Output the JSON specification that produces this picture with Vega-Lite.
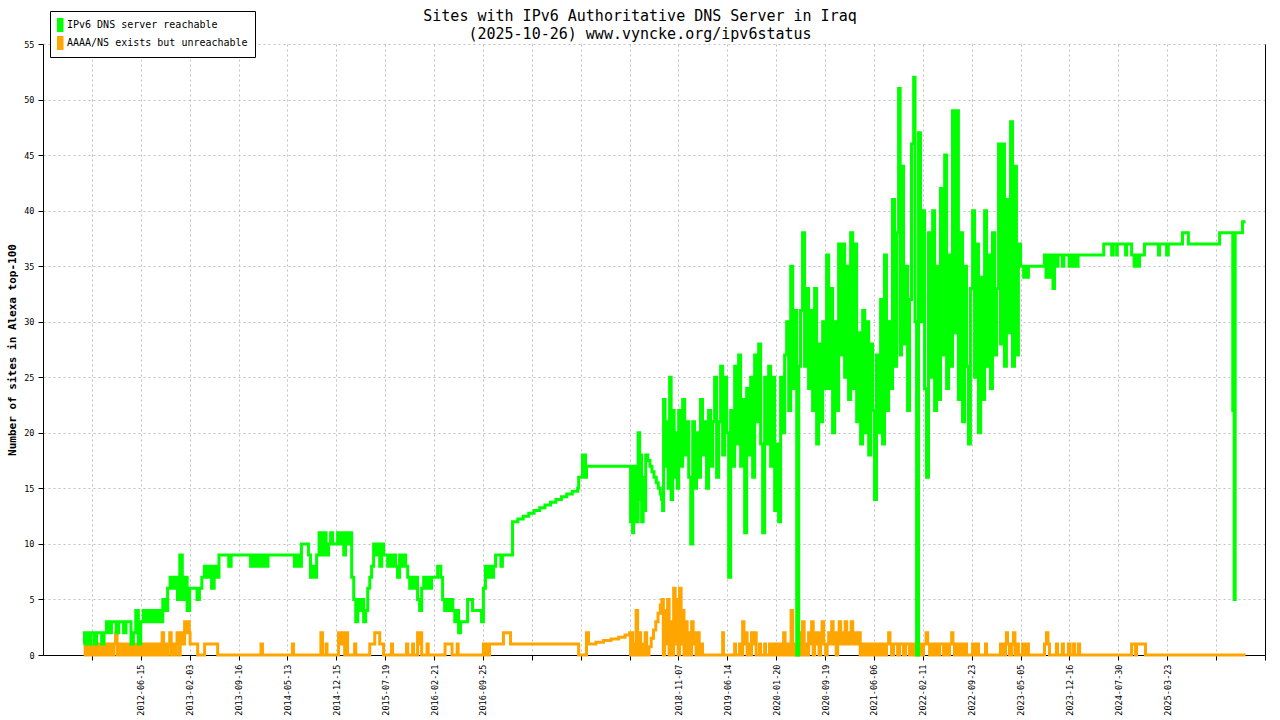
{
  "$schema": "https://vega.github.io/schema/vega-lite/v6.json",
  "autosize": {"type": "none"},
  "width": 1222,
  "height": 611,
  "padding": {"left": 43, "top": 44, "right": 15, "bottom": 65},
  "background": "white",
  "view": {"stroke": null},
  "config": {"font": "DejaVu Sans Mono"},
  "title": {
    "text": ["Sites with IPv6 Authoritative DNS Server in Iraq", "(2025-10-26) www.vyncke.org/ipv6status"],
    "font": "DejaVu Sans Mono",
    "fontSize": 15,
    "fontWeight": "normal",
    "color": "black",
    "anchor": "middle",
    "frame": "group",
    "dx": -14,
    "offset": -31,
    "lineHeight": 18
  },
  "datasets": {
    "green": [
      {"day":268,"n":1},{"day":272,"n":2},{"day":281,"n":2},{"day":286,"n":1},{"day":290,"n":2},{"day":297,"n":1},{"day":301,"n":2},
      {"day":306,"n":2},{"day":317,"n":1},{"day":328,"n":2},{"day":340,"n":2},{"day":351,"n":1},{"day":362,"n":2},{"day":373,"n":3},{"day":385,"n":2},{"day":396,"n":3},{"day":407,"n":3},{"day":418,"n":2},{"day":430,"n":3},{"day":441,"n":3},{"day":452,"n":2},{"day":463,"n":3},{"day":475,"n":3},{"day":486,"n":1},{"day":497,"n":2},{"day":508,"n":4},{"day":520,"n":1},
      {"day":531,"n":3},{"day":543,"n":4},{"day":554,"n":3},{"day":566,"n":4},{"day":578,"n":3},{"day":589,"n":4},{"day":601,"n":3},{"day":612,"n":4},{"day":624,"n":3},{"day":636,"n":5},{"day":647,"n":4},{"day":659,"n":6},{"day":671,"n":7},{"day":682,"n":6},{"day":694,"n":7},{"day":706,"n":5},{"day":717,"n":9},{"day":729,"n":5},{"day":741,"n":7},{"day":752,"n":4},
      {"day":764,"n":6},{"day":775,"n":6},{"day":787,"n":6},{"day":798,"n":5},{"day":809,"n":6},{"day":820,"n":7},{"day":832,"n":8},{"day":843,"n":7},{"day":854,"n":8},{"day":865,"n":6},{"day":877,"n":8},{"day":888,"n":7},{"day":899,"n":9},{"day":910,"n":9},{"day":933,"n":9},{"day":944,"n":8},{"day":955,"n":9},{"day":978,"n":9},
      {"day":989,"n":9},{"day":1037,"n":9},{"day":1048,"n":8},{"day":1060,"n":9},{"day":1072,"n":8},{"day":1082,"n":9},{"day":1096,"n":8},{"day":1108,"n":9},{"day":1121,"n":8},{"day":1133,"n":9},{"day":1228,"n":9},
      {"day":1251,"n":9},{"day":1259,"n":8},{"day":1270,"n":9},{"day":1279,"n":8},{"day":1290,"n":10},{"day":1312,"n":10},{"day":1321,"n":9},{"day":1330,"n":7},{"day":1339,"n":8},{"day":1348,"n":7},{"day":1357,"n":9},{"day":1368,"n":11},{"day":1379,"n":9},{"day":1388,"n":11},{"day":1399,"n":9},{"day":1410,"n":10},{"day":1419,"n":11},{"day":1428,"n":10},{"day":1439,"n":10},
      {"day":1450,"n":11},{"day":1459,"n":10},{"day":1468,"n":11},{"day":1477,"n":9},{"day":1485,"n":11},{"day":1494,"n":10},{"day":1503,"n":11},{"day":1512,"n":7},{"day":1521,"n":5},{"day":1530,"n":3},{"day":1539,"n":5},{"day":1547,"n":4},{"day":1556,"n":5},{"day":1565,"n":3},{"day":1574,"n":4},{"day":1583,"n":6},{"day":1592,"n":7},{"day":1600,"n":8},{"day":1609,"n":10},{"day":1618,"n":9},{"day":1627,"n":10},{"day":1636,"n":8},{"day":1645,"n":10},{"day":1653,"n":9},
      {"day":1662,"n":9},{"day":1671,"n":8},{"day":1680,"n":9},{"day":1689,"n":8},{"day":1698,"n":9},{"day":1706,"n":8},{"day":1715,"n":7},{"day":1724,"n":9},{"day":1733,"n":8},{"day":1742,"n":9},{"day":1751,"n":8},{"day":1760,"n":7},{"day":1769,"n":6},{"day":1777,"n":7},{"day":1786,"n":6},{"day":1795,"n":7},{"day":1804,"n":5},{"day":1813,"n":4},{"day":1822,"n":6},{"day":1831,"n":7},{"day":1840,"n":6},{"day":1849,"n":7},{"day":1857,"n":6},{"day":1866,"n":7},
      {"day":1884,"n":7},{"day":1893,"n":8},{"day":1907,"n":7},{"day":1915,"n":5},{"day":1924,"n":4},{"day":1933,"n":5},{"day":1942,"n":4},{"day":1951,"n":5},{"day":1960,"n":4},{"day":1969,"n":3},{"day":1977,"n":4},{"day":1986,"n":2},{"day":1995,"n":3},{"day":2017,"n":3},{"day":2026,"n":5},{"day":2044,"n":5},{"day":2048,"n":4},{"day":2079,"n":4},{"day":2088,"n":3},
      {"day":2096,"n":6},{"day":2104,"n":8},{"day":2112,"n":7},{"day":2120,"n":8},{"day":2128,"n":7},{"day":2136,"n":8},{"day":2144,"n":9},{"day":2159,"n":9},{"day":2165,"n":8},{"day":2171,"n":9},{"day":2203,"n":9},
      {"day":2211,"n":12},{"day":2232,"n":12.25},{"day":2253,"n":12.5},{"day":2275,"n":12.75},{"day":2296,"n":13},{"day":2318,"n":13.25},{"day":2339,"n":13.5},{"day":2361,"n":13.75},{"day":2382,"n":14},{"day":2404,"n":14.25},{"day":2425,"n":14.5},{"day":2447,"n":14.75},
      {"day":2468,"n":15},{"day":2472,"n":16},{"day":2483,"n":16},{"day":2487,"n":18},{"day":2495,"n":18},{"day":2499,"n":16},{"day":2503,"n":17},{"day":2673,"n":17},
      {"day":2677,"n":12},{"day":2681,"n":17},{"day":2685,"n":11},{"day":2689,"n":16},{"day":2693,"n":13},{"day":2697,"n":17},{"day":2701,"n":12},{"day":2707,"n":20},{"day":2713,"n":14},{"day":2717,"n":18},{"day":2721,"n":12},{"day":2727,"n":16},{"day":2733,"n":13},
      {"day":2737,"n":18},{"day":2745,"n":17.5},{"day":2754,"n":17},{"day":2762,"n":16.5},{"day":2770,"n":16},{"day":2779,"n":15.5},{"day":2787,"n":15},{"day":2795,"n":14.5},{"day":2800,"n":14},
      {"day":2804,"n":13},{"day":2808,"n":23},{"day":2814,"n":17},{"day":2820,"n":21},{"day":2826,"n":15},{"day":2832,"n":25},{"day":2838,"n":14},{"day":2844,"n":22},{"day":2850,"n":16},{"day":2856,"n":20},{"day":2862,"n":15},
      {"day":2868,"n":22},{"day":2877,"n":17},{"day":2886,"n":23},{"day":2895,"n":18},{"day":2904,"n":21},{"day":2913,"n":16},{"day":2922,"n":10},{"day":2931,"n":21},{"day":2939,"n":15},{"day":2948,"n":20},{"day":2957,"n":16},{"day":2966,"n":23},{"day":2975,"n":18},{"day":2984,"n":21},{"day":2993,"n":15},{"day":3002,"n":22},{"day":3011,"n":17},{"day":3020,"n":21},{"day":3029,"n":25},{"day":3038,"n":16},{"day":3047,"n":21},{"day":3056,"n":26},{"day":3065,"n":18},{"day":3074,"n":25},{"day":3083,"n":20},
      {"day":3092,"n":7},{"day":3101,"n":22},{"day":3110,"n":17},{"day":3119,"n":26},{"day":3128,"n":19},{"day":3137,"n":27},{"day":3146,"n":17},{"day":3155,"n":23},{"day":3164,"n":11},{"day":3173,"n":24},{"day":3182,"n":18},{"day":3191,"n":25},{"day":3200,"n":16},{"day":3209,"n":27},{"day":3218,"n":21},{"day":3227,"n":28},{"day":3236,"n":19},{"day":3245,"n":11},{"day":3254,"n":25},{"day":3263,"n":19},{"day":3272,"n":26},{"day":3281,"n":17},{"day":3290,"n":25},{"day":3299,"n":13},
      {"day":3308,"n":19},{"day":3318,"n":12},{"day":3328,"n":25},{"day":3338,"n":20},{"day":3348,"n":27},{"day":3358,"n":30},{"day":3368,"n":22},{"day":3378,"n":35},{"day":3388,"n":24},{"day":3398,"n":31},{"day":3408,"n":0},{"day":3418,"n":26},{"day":3427,"n":31},{"day":3437,"n":38},{"day":3447,"n":26},{"day":3457,"n":33},{"day":3467,"n":24},{"day":3477,"n":31},{"day":3487,"n":22},{"day":3497,"n":33},{"day":3507,"n":19},{"day":3517,"n":28},{"day":3527,"n":21},{"day":3537,"n":30},{"day":3547,"n":24},
      {"day":3557,"n":36},{"day":3568,"n":24},{"day":3578,"n":33},{"day":3589,"n":20},{"day":3600,"n":30},{"day":3610,"n":22},{"day":3621,"n":37},{"day":3632,"n":27},{"day":3642,"n":37},{"day":3653,"n":25},{"day":3664,"n":35},{"day":3674,"n":23},{"day":3685,"n":38},{"day":3696,"n":24},{"day":3706,"n":37},{"day":3717,"n":21},{"day":3728,"n":29},{"day":3738,"n":19},{"day":3749,"n":31},{"day":3760,"n":20},{"day":3770,"n":30},{"day":3781,"n":18},{"day":3792,"n":28},{"day":3802,"n":22},
      {"day":3812,"n":14},{"day":3822,"n":27},{"day":3832,"n":20},{"day":3843,"n":32},{"day":3853,"n":19},{"day":3863,"n":36},{"day":3873,"n":22},{"day":3884,"n":30},{"day":3894,"n":24},{"day":3904,"n":41},{"day":3914,"n":26},{"day":3925,"n":38},{"day":3935,"n":51},{"day":3943,"n":27},{"day":3950,"n":44},{"day":3960,"n":28},{"day":3971,"n":35},{"day":3981,"n":22},{"day":3991,"n":32},{"day":4001,"n":46},{"day":4012,"n":52},{"day":4019,"n":30},{"day":4027,"n":0},{"day":4037,"n":47},{"day":4047,"n":30},
      {"day":4058,"n":40},{"day":4067,"n":24},{"day":4076,"n":16},{"day":4085,"n":38},{"day":4094,"n":25},{"day":4104,"n":40},{"day":4113,"n":22},{"day":4122,"n":35},{"day":4131,"n":23},{"day":4140,"n":42},{"day":4149,"n":27},{"day":4159,"n":45},{"day":4168,"n":24},{"day":4177,"n":36},{"day":4186,"n":26},{"day":4195,"n":49},{"day":4204,"n":29},{"day":4213,"n":49},{"day":4222,"n":23},{"day":4232,"n":38},{"day":4241,"n":21},{"day":4250,"n":35},{"day":4259,"n":26},{"day":4268,"n":19},{"day":4277,"n":33},
      {"day":4287,"n":40},{"day":4296,"n":25},{"day":4305,"n":37},{"day":4314,"n":20},{"day":4324,"n":34},{"day":4333,"n":23},{"day":4342,"n":40},{"day":4351,"n":26},{"day":4360,"n":36},{"day":4369,"n":24},{"day":4378,"n":38},{"day":4388,"n":27},{"day":4397,"n":33},{"day":4406,"n":46},{"day":4415,"n":28},{"day":4424,"n":46},{"day":4433,"n":26},{"day":4442,"n":41},{"day":4452,"n":29},{"day":4461,"n":48},{"day":4470,"n":26},{"day":4479,"n":44},{"day":4488,"n":27},{"day":4497,"n":37},
      {"day":4507,"n":35},{"day":4521,"n":34},{"day":4530,"n":35},{"day":4537,"n":34},{"day":4543,"n":35},{"day":4612,"n":35},{"day":4617,"n":36},{"day":4624,"n":34},{"day":4631,"n":36},{"day":4640,"n":34},{"day":4649,"n":36},{"day":4656,"n":33},{"day":4663,"n":36},{"day":4672,"n":35},{"day":4679,"n":36},{"day":4695,"n":36},{"day":4699,"n":35},{"day":4706,"n":36},{"day":4725,"n":36},{"day":4730,"n":35},
      {"day":4737,"n":36},{"day":4751,"n":35},{"day":4758,"n":36},{"day":4765,"n":35},{"day":4772,"n":36},{"day":4886,"n":36},{"day":4891,"n":37},{"day":4923,"n":37},{"day":4928,"n":36},{"day":4935,"n":37},{"day":4949,"n":37},{"day":4951,"n":36},{"day":4954,"n":37},
      {"day":4989,"n":37},{"day":4994,"n":36},{"day":4999,"n":37},{"day":5018,"n":37},{"day":5023,"n":36},{"day":5035,"n":35},{"day":5042,"n":36},{"day":5054,"n":35},{"day":5061,"n":36},{"day":5081,"n":36},{"day":5085,"n":37},{"day":5148,"n":37},{"day":5153,"n":36},{"day":5158,"n":37},{"day":5187,"n":37},{"day":5192,"n":36},{"day":5198,"n":37},
      {"day":5236,"n":37},{"day":5239,"n":38},{"day":5254,"n":38},{"day":5256,"n":37},{"day":5343,"n":37},{"day":5346,"n":38},{"day":5381,"n":38},{"day":5384,"n":22},{"day":5388,"n":5},{"day":5391,"n":38},{"day":5410,"n":38},{"day":5412,"n":39},{"day":5421,"n":39}
    ],
    "orange": [
      {"day":268,"n":1},{"day":275,"n":0},{"day":281,"n":1},{"day":288,"n":0},{"day":295,"n":1},{"day":301,"n":0},
      {"day":309,"n":1},{"day":316,"n":0},{"day":323,"n":1},{"day":330,"n":0},{"day":337,"n":1},{"day":344,"n":0},{"day":351,"n":1},{"day":358,"n":0},{"day":365,"n":1},{"day":372,"n":0},{"day":379,"n":1},{"day":386,"n":0},{"day":392,"n":1},{"day":399,"n":0},{"day":406,"n":1},{"day":415,"n":2},{"day":422,"n":0},{"day":429,"n":1},{"day":436,"n":0},{"day":443,"n":1},{"day":450,"n":0},{"day":457,"n":1},{"day":464,"n":0},{"day":471,"n":1},{"day":478,"n":0},{"day":485,"n":1},{"day":491,"n":0},{"day":498,"n":1},{"day":505,"n":0},{"day":512,"n":1},{"day":519,"n":0},{"day":526,"n":1},
      {"day":532,"n":0},{"day":540,"n":1},{"day":547,"n":0},{"day":554,"n":1},{"day":561,"n":0},{"day":568,"n":1},{"day":575,"n":0},{"day":583,"n":1},{"day":590,"n":0},{"day":597,"n":1},{"day":604,"n":0},{"day":611,"n":1},{"day":618,"n":0},{"day":626,"n":1},{"day":633,"n":2},{"day":640,"n":0},{"day":647,"n":1},{"day":654,"n":0},{"day":661,"n":1},{"day":669,"n":2},{"day":676,"n":0},{"day":683,"n":1},{"day":690,"n":0},{"day":697,"n":1},{"day":704,"n":2},{"day":712,"n":0},{"day":719,"n":1},{"day":726,"n":2},{"day":733,"n":1},{"day":740,"n":3},{"day":747,"n":2},{"day":755,"n":3},{"day":762,"n":2},
      {"day":766,"n":1},{"day":796,"n":1},{"day":801,"n":0},{"day":829,"n":0},{"day":833,"n":1},{"day":888,"n":1},{"day":893,"n":0},
      {"day":1096,"n":0},{"day":1099,"n":1},{"day":1104,"n":1},{"day":1106,"n":0},
      {"day":1248,"n":0},{"day":1250,"n":1},{"day":1255,"n":0},{"day":1374,"n":0},{"day":1376,"n":2},{"day":1383,"n":0},{"day":1396,"n":0},{"day":1399,"n":1},{"day":1403,"n":0},
      {"day":1450,"n":0},{"day":1454,"n":2},{"day":1463,"n":1},{"day":1468,"n":2},{"day":1477,"n":2},{"day":1481,"n":0},{"day":1488,"n":2},{"day":1494,"n":0},{"day":1523,"n":0},{"day":1525,"n":1},{"day":1530,"n":0},{"day":1587,"n":0},{"day":1592,"n":1},{"day":1605,"n":1},{"day":1614,"n":2},{"day":1627,"n":2},{"day":1636,"n":1},{"day":1649,"n":1},{"day":1653,"n":0},
      {"day":1686,"n":0},{"day":1688,"n":1},{"day":1693,"n":0},{"day":1753,"n":0},{"day":1755,"n":1},{"day":1760,"n":0},{"day":1780,"n":0},{"day":1782,"n":1},{"day":1786,"n":0},{"day":1800,"n":0},{"day":1804,"n":2},{"day":1811,"n":1},{"day":1817,"n":2},{"day":1822,"n":0},{"day":1844,"n":0},{"day":1846,"n":1},{"day":1851,"n":0},
      {"day":1924,"n":0},{"day":1926,"n":1},{"day":1955,"n":1},{"day":1957,"n":0},{"day":1977,"n":0},{"day":1980,"n":1},{"day":1984,"n":0},{"day":2092,"n":0},
      {"day":2096,"n":1},{"day":2104,"n":0},{"day":2112,"n":1},{"day":2116,"n":0},{"day":2120,"n":1},{"day":2171,"n":1},{"day":2175,"n":2},{"day":2199,"n":2},{"day":2203,"n":1},
      {"day":2468,"n":1},{"day":2472,"n":0},{"day":2499,"n":0},{"day":2503,"n":2},{"day":2511,"n":1},{"day":2540,"n":1.15},{"day":2570,"n":1.3},{"day":2600,"n":1.45},{"day":2630,"n":1.6},{"day":2655,"n":1.8},{"day":2673,"n":2},
      {"day":2677,"n":0},{"day":2681,"n":2},{"day":2685,"n":0},{"day":2689,"n":1},{"day":2693,"n":0},{"day":2699,"n":4},{"day":2705,"n":0},{"day":2711,"n":2},{"day":2717,"n":0},{"day":2723,"n":1},{"day":2729,"n":0},{"day":2735,"n":2},
      {"day":2741,"n":0},{"day":2750,"n":0.75},{"day":2759,"n":1.5},{"day":2768,"n":2.25},{"day":2777,"n":3},{"day":2786,"n":3.75},{"day":2795,"n":4.5},
      {"day":2801,"n":5},{"day":2807,"n":0},{"day":2812,"n":4},{"day":2818,"n":1},{"day":2824,"n":5},{"day":2830,"n":0},{"day":2836,"n":3},{"day":2842,"n":0},{"day":2848,"n":6},{"day":2854,"n":1},{"day":2860,"n":5},{"day":2866,"n":0},
      {"day":2872,"n":6},{"day":2879,"n":1},{"day":2886,"n":4},{"day":2892,"n":0},{"day":2899,"n":3},{"day":2906,"n":0},{"day":2913,"n":2},{"day":2919,"n":0},{"day":2926,"n":3},{"day":2933,"n":1},{"day":2939,"n":2},{"day":2946,"n":0},{"day":2953,"n":2},{"day":2960,"n":0},{"day":2971,"n":1},{"day":2975,"n":0},{"day":3060,"n":0},{"day":3065,"n":2},{"day":3069,"n":0},
      {"day":3096,"n":0},{"day":3119,"n":1},{"day":3123,"n":0},{"day":3141,"n":1},{"day":3148,"n":0},{"day":3155,"n":3},{"day":3161,"n":1},{"day":3168,"n":2},{"day":3175,"n":0},{"day":3182,"n":1},{"day":3189,"n":0},{"day":3195,"n":2},{"day":3202,"n":1},{"day":3209,"n":2},{"day":3216,"n":0},{"day":3231,"n":1},{"day":3236,"n":0},{"day":3254,"n":1},{"day":3258,"n":0},{"day":3276,"n":1},{"day":3281,"n":0},{"day":3294,"n":1},{"day":3299,"n":0},
      {"day":3313,"n":1},{"day":3320,"n":0},{"day":3328,"n":1},{"day":3335,"n":0},{"day":3343,"n":2},{"day":3350,"n":0},{"day":3358,"n":1},{"day":3365,"n":0},{"day":3373,"n":1},{"day":3380,"n":4},{"day":3388,"n":0},{"day":3398,"n":1},{"day":3408,"n":0},{"day":3415,"n":2},{"day":3423,"n":0},{"day":3430,"n":1},{"day":3437,"n":3},{"day":3445,"n":0},{"day":3452,"n":1},{"day":3460,"n":0},{"day":3467,"n":2},{"day":3475,"n":1},{"day":3482,"n":3},{"day":3490,"n":0},{"day":3497,"n":2},{"day":3505,"n":1},{"day":3512,"n":2},{"day":3519,"n":0},{"day":3527,"n":1},{"day":3534,"n":3},{"day":3542,"n":1},
      {"day":3552,"n":0},{"day":3560,"n":1},{"day":3568,"n":2},{"day":3576,"n":1},{"day":3584,"n":3},{"day":3592,"n":1},{"day":3600,"n":2},{"day":3608,"n":0},{"day":3616,"n":1},{"day":3624,"n":3},{"day":3632,"n":1},{"day":3640,"n":2},{"day":3648,"n":1},{"day":3656,"n":3},{"day":3664,"n":1},{"day":3672,"n":2},{"day":3680,"n":1},{"day":3688,"n":3},{"day":3696,"n":2},{"day":3704,"n":1},{"day":3712,"n":2},{"day":3720,"n":1},{"day":3728,"n":2},{"day":3736,"n":0},{"day":3744,"n":1},{"day":3752,"n":0},{"day":3760,"n":1},{"day":3768,"n":0},{"day":3776,"n":1},{"day":3786,"n":0},{"day":3797,"n":1},{"day":3805,"n":0},
      {"day":3812,"n":1},{"day":3822,"n":0},{"day":3832,"n":1},{"day":3843,"n":0},{"day":3853,"n":1},{"day":3863,"n":0},{"day":3873,"n":1},{"day":3884,"n":2},{"day":3891,"n":1},{"day":3899,"n":0},{"day":3909,"n":1},{"day":3919,"n":1},{"day":3930,"n":0},{"day":3940,"n":1},{"day":3950,"n":1},{"day":3960,"n":0},{"day":3971,"n":1},{"day":3981,"n":1},{"day":3991,"n":0},{"day":4001,"n":1},{"day":4012,"n":0},{"day":4022,"n":1},{"day":4032,"n":0},{"day":4042,"n":1},{"day":4053,"n":0},
      {"day":4062,"n":1},{"day":4074,"n":2},{"day":4081,"n":1},{"day":4090,"n":0},{"day":4099,"n":1},{"day":4108,"n":0},{"day":4117,"n":1},{"day":4127,"n":0},{"day":4136,"n":1},{"day":4145,"n":1},{"day":4154,"n":0},{"day":4163,"n":1},{"day":4172,"n":0},{"day":4181,"n":1},{"day":4191,"n":2},{"day":4197,"n":1},{"day":4204,"n":0},{"day":4213,"n":1},{"day":4222,"n":0},{"day":4232,"n":1},{"day":4241,"n":0},{"day":4250,"n":1},{"day":4259,"n":0},{"day":4277,"n":0},
      {"day":4287,"n":1},{"day":4296,"n":0},{"day":4305,"n":1},{"day":4314,"n":0},{"day":4342,"n":0},{"day":4346,"n":1},{"day":4351,"n":0},{"day":4411,"n":0},{"day":4415,"n":1},{"day":4424,"n":1},{"day":4429,"n":0},{"day":4438,"n":1},{"day":4442,"n":2},{"day":4447,"n":1},{"day":4456,"n":0},{"day":4465,"n":1},{"day":4474,"n":2},{"day":4481,"n":0},{"day":4488,"n":1},{"day":4497,"n":0},
      {"day":4512,"n":0},{"day":4516,"n":1},{"day":4525,"n":1},{"day":4530,"n":0},{"day":4537,"n":1},{"day":4543,"n":0},{"day":4612,"n":0},{"day":4617,"n":1},{"day":4626,"n":2},{"day":4633,"n":1},{"day":4640,"n":0},{"day":4670,"n":0},{"day":4672,"n":1},{"day":4677,"n":0},{"day":4697,"n":0},{"day":4699,"n":1},{"day":4704,"n":0},{"day":4725,"n":0},{"day":4727,"n":1},
      {"day":4735,"n":0},{"day":4749,"n":0},{"day":4751,"n":1},{"day":4756,"n":0},{"day":4772,"n":0},{"day":4774,"n":1},{"day":4779,"n":0},{"day":4955,"n":0},
      {"day":5021,"n":0},{"day":5023,"n":1},{"day":5038,"n":1},{"day":5042,"n":0},{"day":5047,"n":1},{"day":5085,"n":1},{"day":5090,"n":0},{"day":5192,"n":0},{"day":5421,"n":0}
    ]
  },
  "layer": [
    {
      "data": {"name": "orange"},
      "mark": {"type": "line", "interpolate": "step-after", "strokeWidth": 3, "strokeJoin": "miter", "strokeCap": "butt"},
      "encoding": {
        "x": {
          "field": "day",
          "type": "quantitative",
          "scale": {
            "domain": [81, 306, 531, 764, 989, 1228, 1444, 1660, 1877, 2094, 2287, 2480, 2673, 2867, 3086, 3306, 3549, 3809, 4059, 4283, 4507, 4732, 4959, 5195, 5336, 5477],
            "range": [0, 48.88, 97.76, 146.64, 195.52, 244.4, 293.28, 342.16, 391.04, 439.92, 488.8, 537.68, 586.56, 635.44, 684.32, 733.2, 782.08, 830.96, 879.84, 928.72, 977.6, 1026.48, 1075.36, 1124.24, 1173.12, 1222],
            "zero": false,
            "nice": false
          },
          "axis": {
            "title": null,
            "values": [306, 531, 764, 989, 1228, 1444, 1660, 1877, 2094, 2287, 2480, 2673, 2867, 3086, 3306, 3549, 3809, 4059, 4283, 4507, 4732, 4959, 5195, 5336, 5477],
            "labelExpr": "indexof([306, 2287, 2480, 2673, 5336, 5477], datum.value) >= 0 ? '' : timeFormat(datetime(2011, 0, 1 + datum.value), '%Y-%m-%d')",
            "labelAngle": -90,
            "labelFont": "DejaVu Sans Mono",
            "labelFontSize": 8.5,
            "labelColor": "black",
            "labelPadding": 4,
            "labelOverlap": false,
            "labelFlush": false,
            "tickSize": 5,
            "tickColor": "black",
            "domainColor": "black",
            "grid": true,
            "gridColor": "#c0c0c0",
            "gridDash": [2, 3]
          }
        },
        "y": {
          "field": "n",
          "type": "quantitative",
          "scale": {"domain": [0, 55], "nice": false},
          "axis": {
            "orient": "left",
            "values": [0, 5, 10, 15, 20, 25, 30, 35, 40, 45, 50, 55],
            "title": "Number of sites in Alexa top-100",
            "titleFont": "DejaVu Sans Mono",
            "titleFontSize": 11,
            "titleFontWeight": "bold",
            "titleColor": "black",
            "titlePadding": 6,
            "labelFont": "DejaVu Sans Mono",
            "labelFontSize": 8.5,
            "labelColor": "black",
            "labelPadding": 4,
            "tickSize": 5,
            "tickColor": "black",
            "domainColor": "black",
            "grid": true,
            "gridColor": "#c0c0c0",
            "gridDash": [2, 3]
          }
        },
        "color": {
          "datum": "AAAA/NS exists but unreachable",
          "scale": {"domain": ["IPv6 DNS server reachable", "AAAA/NS exists but unreachable"], "range": ["#00ff00", "#ffa500"]},
          "legend": {
            "orient": "none",
            "legendX": 7,
            "legendY": -33,
            "title": null,
            "strokeColor": "black",
            "fillColor": "white",
            "padding": 7,
            "symbolType": "M0,-2V2",
            "symbolSize": 49,
            "symbolStrokeWidth": 7,
            "symbolOffset": -4,
            "clipHeight": 14,
            "labelFont": "DejaVu Sans Mono",
            "labelFontSize": 10,
            "labelColor": "black",
            "labelLimit": 400,
            "labelOffset": 0,
            "rowPadding": 4
          }
        }
      }
    },
    {
      "data": {"name": "green"},
      "mark": {"type": "line", "interpolate": "step-after", "strokeWidth": 3, "strokeJoin": "miter", "strokeCap": "butt"},
      "encoding": {
        "x": {"field": "day", "type": "quantitative"},
        "y": {
          "field": "n",
          "type": "quantitative",
          "axis": {"orient": "right", "labels": false, "ticks": false, "grid": false, "title": null, "domainColor": "black"}
        },
        "color": {"datum": "IPv6 DNS server reachable"}
      }
    }
  ],
  "resolve": {"axis": {"y": "independent"}}
}
